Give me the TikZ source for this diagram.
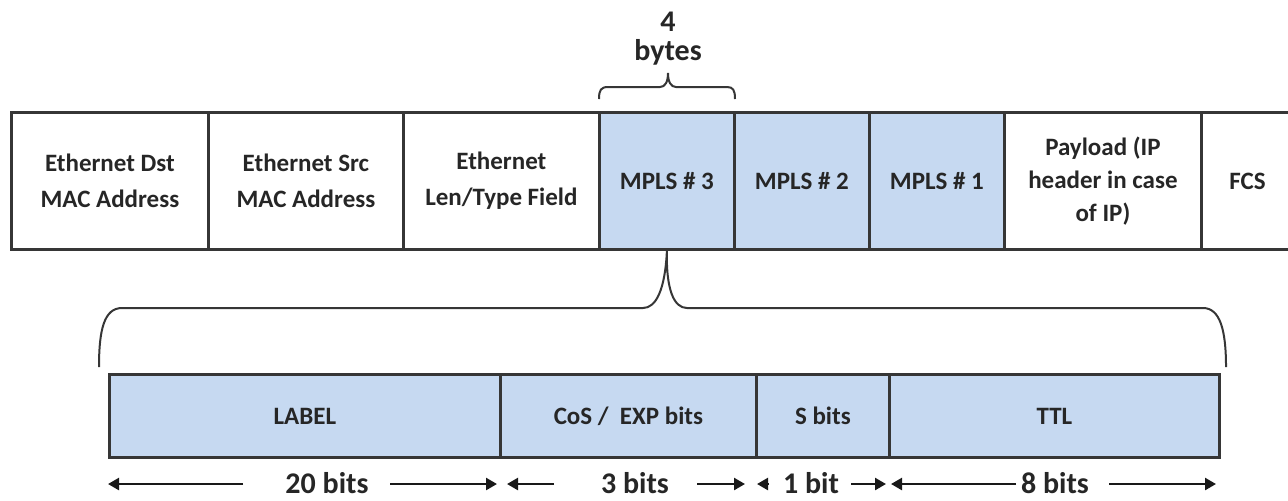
\documentclass[tikz,border=0pt]{standalone}
\usepackage{fontspec}
\setmainfont{Carlito}
\usetikzlibrary{arrows.meta}

\definecolor{mplsblue}{HTML}{C6D9F1}
\definecolor{edgegray}{HTML}{363636}

\tikzset{
  field/.style={draw=edgegray, line width=1.4pt, anchor=north west,
    minimum height=68.5pt, inner sep=0pt, align=center, text=black!85,
    font=\bfseries\fontsize{12.5}{18}\selectfont},
  label field/.style={field, fill=mplsblue},
  part/.style={draw=edgegray, line width=1.4pt, anchor=north west,
    minimum height=41.5pt, inner sep=0pt, fill=mplsblue, text=black!85,
    font=\bfseries\fontsize{12.5}{15}\selectfont},
  bits/.style={text=black!85, inner sep=0pt, font=\bfseries\fontsize{15}{18}\selectfont},
  brace line/.style={draw=edgegray, line width=1pt},
  bit arrow/.style={draw=black!90, line width=1.2pt, -{Triangle[length=5.5pt,width=6pt]}}
}

\begin{document}
\begin{tikzpicture}[x=0.5pt,y=-0.5pt]
  \useasboundingbox (0,0) rectangle (1288,500);

  % ethernet frame
  \node[field, minimum width=98.5pt] (dst) at (10,111) {Ethernet Dst\\MAC Address};
  \node[field, minimum width=97.5pt] (src) at (207,111) {Ethernet Src\\MAC Address};
  \node[field, minimum width=98pt] (len) at (402,111) {Ethernet\\Len/Type Field};
  \node[label field, minimum width=67.5pt] (mpls3) at (598,111) {MPLS \# 3};
  \node[label field, minimum width=67.5pt] (mpls2) at (733,111) {MPLS \# 2};
  \node[label field, minimum width=67.5pt] (mpls1) at (868,111) {MPLS \# 1};
  \node[field, minimum width=98.5pt, font=\bfseries\fontsize{12.5}{16.5}\selectfont] (payload) at (1003,111) {Payload (IP\\header in case\\of IP)};
  \node[field, minimum width=46pt] (fcs) at (1200,111) {FCS};

  % size of one label
  \node[align=center, inner sep=0pt, text=black!85, font=\bfseries\fontsize{15}{14.5}\selectfont] (bytes) at (668,39) {4\\bytes};
  \draw[brace line] (599,99) .. controls (599,90) and (601,87) .. (608,87)
    -- (660,87) .. controls (665,87) and (668,82) .. (668,73)
    .. controls (668,82) and (671,87) .. (676,87) -- (727,87)
    .. controls (733,87) and (735,90) .. (735,99);

  % big brace
  \draw[brace line] (99,367) .. controls (99,330) and (104,308) .. (122,308)
    -- (643,308) .. controls (656,308) and (665,290) .. (mpls3.south)
    .. controls (666,290) and (674,308) .. (687,308)
    -- (1203,308) .. controls (1220,308) and (1226,330) .. (1226,367);

  % label entry
  \node[part, minimum width=195.5pt] (label) at (108,373) {LABEL};
  \node[part, minimum width=128pt] (cos) at (499,373) {CoS /\ \ EXP bits};
  \node[part, minimum width=66.5pt] (sbit) at (755,373) {S bits};
  \node[part, minimum width=165pt] (ttl) at (888,373) {TTL};

  % bit counts
  \node[bits] (b20) at (327,483) {20 bits};
  \node[bits] (b3) at (635,483) {3 bits};
  \node[bits] (b1) at (811,483) {1 bit};
  \node[bits] (b8) at (1055,483) {8 bits};

  \foreach \tail/\tip in {243/108, 390/497, 554/507, 697/745,
                          769/757, 851/886, 1016/891, 1109/1216}
    \draw[bit arrow] (\tail,484) -- (\tip,484);
\end{tikzpicture}
\end{document}
